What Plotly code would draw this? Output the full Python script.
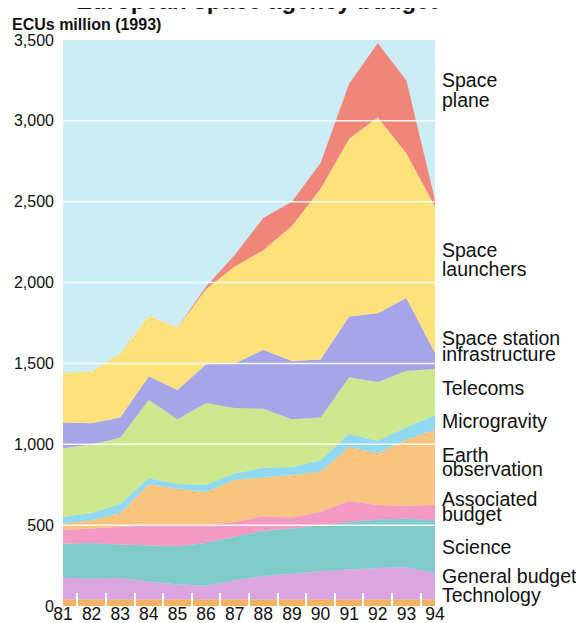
import plotly.graph_objects as go

years = [81, 82, 83, 84, 85, 86, 87, 88, 89, 90, 91, 92, 93, 94]
year_labels = ["81", "82", "83", "84", "85", "86", "87", "88", "89", "90", "91", "92", "93", "94"]

technology = [40, 40, 40, 40, 40, 40, 40, 40, 40, 40, 40, 40, 40, 40]
general_budget = [135, 130, 135, 110, 95, 85, 120, 145, 160, 175, 185, 195, 200, 165]
science = [210, 220, 205, 225, 235, 265, 270, 280, 280, 285, 295, 300, 300, 325]
associated_budget = [85, 90, 110, 125, 130, 110, 90, 90, 65, 85, 130, 90, 80, 95]
earth_observation = [40, 50, 85, 255, 225, 205, 260, 240, 265, 245, 335, 320, 410, 465]
microgravity = [40, 45, 55, 35, 30, 45, 40, 60, 50, 70, 80, 75, 75, 90]
telecoms = [425, 425, 410, 485, 400, 505, 405, 365, 295, 265, 350, 365, 350, 285]
space_station = [160, 130, 125, 145, 180, 240, 275, 365, 360, 360, 375, 425, 450, 100]
space_launchers = [305, 320, 395, 375, 385, 465, 600, 615, 835, 1055, 1100, 1210, 895, 905]
space_plane = [0, 0, 0, 0, 0, 15, 70, 200, 150, 160, 340, 460, 450, 40]

y_ticks = [0, 500, 1000, 1500, 2000, 2500, 3000, 3500]
y_tick_text = ["0", "500", "1,000", "1,500", "2,000", "2,500", "3,000", "3,500"]
grid_values = [500, 1000, 1500, 2000, 2500, 3000]
year_boundaries = [81.5, 82.5, 83.5, 84.5, 85.5, 86.5, 87.5, 88.5, 89.5, 90.5, 91.5, 92.5, 93.5]

series = [
    ("Technology", technology, "#f4b25e"),
    ("General budget", general_budget, "#dba6e0"),
    ("Science", science, "#80cac8"),
    ("Associated budget", associated_budget, "#f59ac4"),
    ("Earth observation", earth_observation, "#f8c47f"),
    ("Microgravity", microgravity, "#90d9f2"),
    ("Telecoms", telecoms, "#cde88e"),
    ("Space station infrastructure", space_station, "#a5a5e8"),
    ("Space launchers", space_launchers, "#fde27c"),
    ("Space plane", space_plane, "#f0857a"),
]

# label lines (text, y in data units)
label_lines = [
    ("Space", 3253), ("plane", 3129),
    ("Space", 2201), ("launchers", 2084),
    ("Space station", 1657), ("infrastructure", 1558),
    ("Telecoms", 1348),
    ("Microgravity", 1144),
    ("Earth", 934), ("observation", 847),
    ("Associated", 662), ("budget", 569),
    ("Science", 365),
    ("General budget", 186),
    ("Technology", 68),
]

FONT = "Liberation Sans, Arial, sans-serif"
PLOT_W = 372

fig = go.Figure()
for name, vals, col in series:
    fig.add_trace(go.Scatter(
        x=years, y=vals, name=name, stackgroup="one", mode="lines",
        line=dict(width=0, color=col), fillcolor=col, hoverinfo="x+y+name",
    ))

shapes = [
    dict(type="line", xref="paper", x0=0, x1=1, yref="y", y0=v, y1=v,
         line=dict(color="rgba(255,255,255,0.9)", width=1.5), layer="above")
    for v in grid_values
]

annotations = [
    dict(text=t, x=1, xref="paper", xanchor="left", xshift=5, y=yv, yref="y",
         yanchor="middle", showarrow=False, font=dict(family=FONT, size=19.5, color="#111"))
    for t, yv in label_lines
]
annotations.append(dict(
    text="<b>ECUs million (1993)</b>", x=-53 / PLOT_W, xref="paper", xanchor="left",
    y=1.028, yref="paper", yanchor="middle", showarrow=False,
    font=dict(family=FONT, size=16, color="#111"),
))
annotations.append(dict(
    text="<b>European space agency budget</b>", x=0.52, xref="paper", xanchor="center",
    y=1, yref="paper", yanchor="bottom", yshift=24, showarrow=False,
    font=dict(family=FONT, size=24, color="#111"),
))

fig.update_layout(
    width=576, height=615,
    margin=dict(l=55, r=149, t=32, b=17),
    paper_bgcolor="white", plot_bgcolor="#cdedf6",
    showlegend=False,
    shapes=shapes, annotations=annotations,
    font=dict(family=FONT, color="#111"),
)
fig.update_xaxes(
    range=[81, 94], tickvals=years, ticktext=year_labels, ticks="", showgrid=False,
    zeroline=False, showline=False, automargin=False,
    tickfont=dict(family=FONT, size=17.5, color="#111"),
    ticklabelstandoff=-5,
    minor=dict(tickmode="array", tickvals=year_boundaries, ticks="inside", ticklen=13,
               tickwidth=2, tickcolor="white", showgrid=False),
)
fig.update_yaxes(
    range=[0, 3500], tickvals=y_ticks, ticktext=y_tick_text, ticks="", showgrid=False,
    zeroline=False, showline=False, automargin=False,
    tickfont=dict(family=FONT, size=16, color="#111"),
    ticklabelstandoff=8,
)

fig.write_html("out.html")
